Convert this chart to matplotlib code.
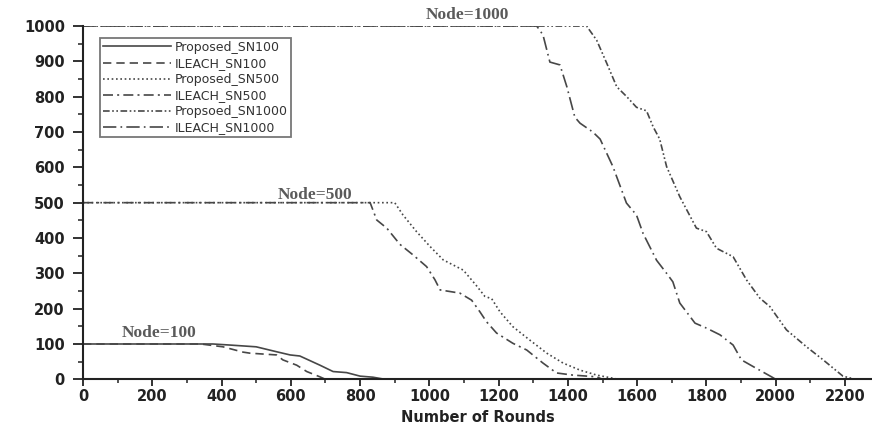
import numpy as np
import matplotlib
matplotlib.use('Agg')
import matplotlib.pyplot as plt
from matplotlib.ticker import MultipleLocator

# values (rounds, alive nodes)
p100_x = [0, 375, 424, 500, 559, 598, 626, 684, 722, 761, 800, 837, 866, 880]
p100_y = [100, 100, 97, 92, 78, 69, 66, 40, 22, 19, 9, 6, 1, 0]

i100_x = [0, 340, 404, 462, 482, 559, 577, 617, 646, 684, 700]
i100_y = [100, 100, 92, 77, 74, 69, 55, 40, 22, 7, 0]

p500_x = [0, 900, 924, 963, 1002, 1040, 1098, 1136, 1160, 1180, 1204, 1241, 1290, 1339, 1386, 1435, 1483, 1530, 1545]
p500_y = [500, 500, 465, 418, 376, 338, 309, 265, 235, 228, 191, 149, 111, 74, 46, 26, 12, 3, 0]

i500_x = [0, 829, 848, 877, 915, 953, 992, 1016, 1031, 1088, 1122, 1146, 1165, 1194, 1241, 1281, 1328, 1367, 1414, 1483, 1500]
i500_y = [500, 500, 451, 428, 382, 352, 319, 282, 253, 244, 224, 191, 163, 131, 102, 83, 46, 18, 12, 7, 0]

p1000_x = [0, 1454, 1483, 1512, 1541, 1570, 1598, 1627, 1646, 1665, 1685, 1723, 1771, 1800, 1829, 1877, 1916, 1954, 1983, 2031, 2089, 2137, 2194, 2230]
p1000_y = [1000, 1000, 960, 895, 828, 800, 770, 760, 715, 680, 602, 517, 428, 418, 371, 347, 281, 230, 206, 140, 92, 55, 9, 0]

i1000_x = [0, 1310, 1328, 1348, 1377, 1397, 1420, 1435, 1472, 1493, 1530, 1569, 1598, 1617, 1656, 1685, 1703, 1723, 1767, 1800, 1839, 1877, 1901, 1935, 1988, 2000]
i1000_y = [1000, 1000, 975, 898, 890, 828, 742, 725, 700, 680, 602, 499, 465, 413, 337, 300, 276, 216, 159, 145, 126, 97, 55, 36, 7, 0]

node_labels = ['Node=100', 'Node=500', 'Node=1000']
node_pos = [(219, 131), (670, 522), (1109, 1031)]

plt.rcParams['font.family'] = ['DejaVu Sans']

fig = plt.figure(figsize=(8.72, 4.34), dpi=100)
ax = fig.add_axes([0.0952, 0.126, 0.9048, 0.814])

lc = '#474747'
ax.plot(p100_x, p100_y, color=lc, lw=1.2, ls='-', label='Proposed_SN100')
ax.plot(i100_x, i100_y, color=lc, lw=1.2, ls=(0, (5, 3)), label='ILEACH_SN100')
ax.plot(p500_x, p500_y, color=lc, lw=1.2, ls=(0, (1, 1.6)), label='Proposed_SN500')
ax.plot(i500_x, i500_y, color=lc, lw=1.2, ls=(0, (6, 2.5, 1.2, 2.5)), label='ILEACH_SN500')
ax.plot(p1000_x, p1000_y, color=lc, lw=1.2, ls=(0, (4, 1.5, 1, 1.5, 1, 1.5)), label='Propsoed_SN1000')
ax.plot(i1000_x, i1000_y, color=lc, lw=1.2, ls=(0, (8, 2.5, 1, 2.5)), label='ILEACH_SN1000')

for txt, (x, y) in zip(node_labels, node_pos):
    ax.text(x, y, txt, family='Liberation Serif', fontsize=12.5, fontweight='bold',
            color='#5a5a5a', ha='center', va='center', clip_on=False)

ax.set_xlim(0, 2278)
ax.set_ylim(0, 1000)
ax.xaxis.set_major_locator(MultipleLocator(200))
ax.xaxis.set_minor_locator(MultipleLocator(100))
ax.yaxis.set_major_locator(MultipleLocator(100))
ax.yaxis.set_minor_locator(MultipleLocator(50))

ax.spines['top'].set_visible(False)
ax.spines['right'].set_visible(False)
ax.spines['left'].set_linewidth(1.5)
ax.spines['bottom'].set_linewidth(1.5)
ax.spines['left'].set_color('#222222')
ax.spines['bottom'].set_color('#222222')

ax.tick_params(axis='y', which='major', direction='out', length=7, width=1.3, pad=6,
               labelsize=10.5, colors='#222222')
ax.tick_params(axis='y', which='minor', direction='out', length=3.5, width=1.1, colors='#222222')
ax.tick_params(axis='x', which='major', direction='out', length=5, width=1.3, pad=2,
               labelsize=10.5, colors='#222222')
ax.tick_params(axis='x', which='minor', direction='out', length=3, width=1.1, colors='#222222')
for lab in ax.get_xticklabels() + ax.get_yticklabels():
    lab.set_fontweight('bold')

ax.set_xlabel('Number of Rounds', fontsize=10.5, fontweight='bold', color='#222222', labelpad=4)

leg = ax.legend(loc='upper left', bbox_to_anchor=(0.0215, 0.966), borderaxespad=0,
                fontsize=9, frameon=True, fancybox=False, handlelength=5.5,
                handletextpad=0.3, labelspacing=0.25, borderpad=0.22)
leg.get_frame().set_edgecolor('#555555')
leg.get_frame().set_linewidth(1.3)
for t in leg.get_texts():
    t.set_color('#333333')

plt.savefig('out.png', dpi=100)
